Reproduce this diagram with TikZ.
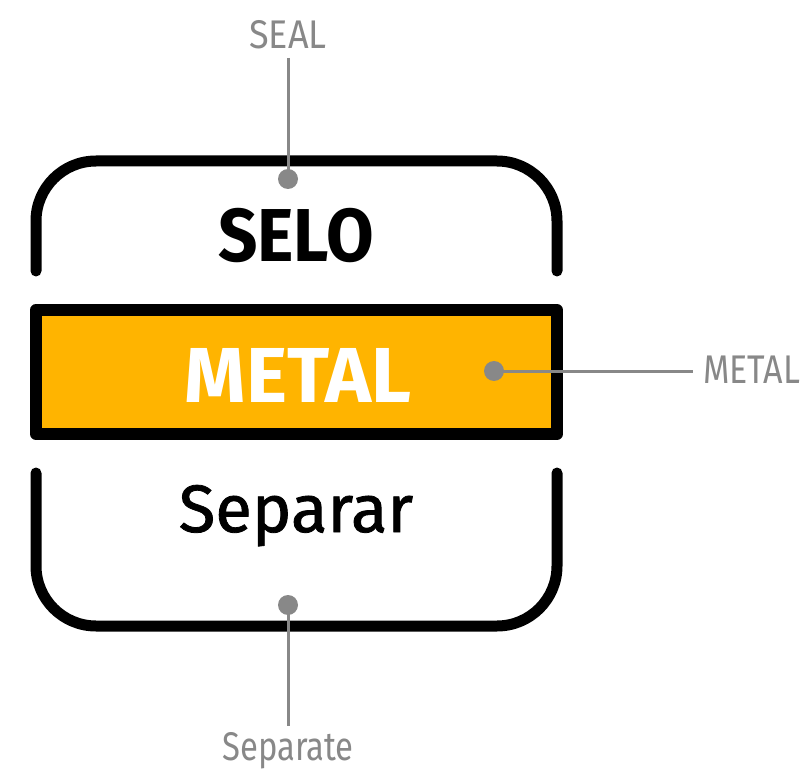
\documentclass[tikz,border=0pt]{standalone}
\usepackage{fontspec}
\setmainfont{Fira Sans}
\newfontfamily\medfont{Fira Sans}[FakeBold=1.2]
\definecolor{gold}{HTML}{FFB400}
\definecolor{lbl}{HTML}{888888}
\tikzset{
  frame/.style={line width=11pt, line cap=round, line join=round, black, rounded corners=60pt},
  metalbox/.style={line width=12pt, line join=round, fill=gold, draw=black},
  pin/.style={circle, fill=lbl, inner sep=0pt, minimum size=20pt},
  pinline/.style={line width=3pt, lbl},
  tag/.style={text=lbl, font=\fontsize{40}{44}\selectfont, inner sep=0pt},
  bigword/.style={inner sep=0pt}
}
\begin{document}
\begin{tikzpicture}[x=1pt,y=-1pt]
\useasboundingbox (0,0) rectangle (804,770);
% top bracket
\draw[frame] (36,271) -- (36,161) -- (557,161) -- (557,271);
% metal box
\draw[metalbox] (36,310) rectangle (557,434);
% bottom bracket
\draw[frame] (36,473) -- (36,626) -- (557,626) -- (557,473);
% main words
\node[bigword, anchor=base, font=\fontsize{75}{80}\selectfont\bfseries] (selo) at (296,262) {\scalebox{0.92}[1]{SELO}};
\node[bigword, anchor=base, text=white, font=\fontsize{78}{82}\selectfont\bfseries] (metal) at (298,402) {METAL};
\node[bigword, anchor=base, font=\fontsize{67}{72}\selectfont\medfont] (separar) at (296,532) {Separar};
% pins
\node[pin] (dseal) at (288,179) {};
\node[pin] (dmetal) at (494,371) {};
\node[pin] (dsep) at (288,605) {};
% labels
\node[tag, anchor=base] (lseal) at (288,49) {\scalebox{0.9}[1]{SEAL}};
\node[tag, anchor=base west] (lmetal) at (703,384) {\scalebox{0.85}[1]{METAL}};
\node[tag, anchor=base] (lsep) at (288,760) {\scalebox{0.82}[1]{Separate}};
\coordinate (eseal) at (288,58);
\coordinate (emetal) at (693,371);
\coordinate (esep) at (288,726);
\draw[pinline] (eseal) -- (dseal.center);
\draw[pinline] (dmetal.center) -- (emetal);
\draw[pinline] (dsep.center) -- (esep);
\end{tikzpicture}
\end{document}
